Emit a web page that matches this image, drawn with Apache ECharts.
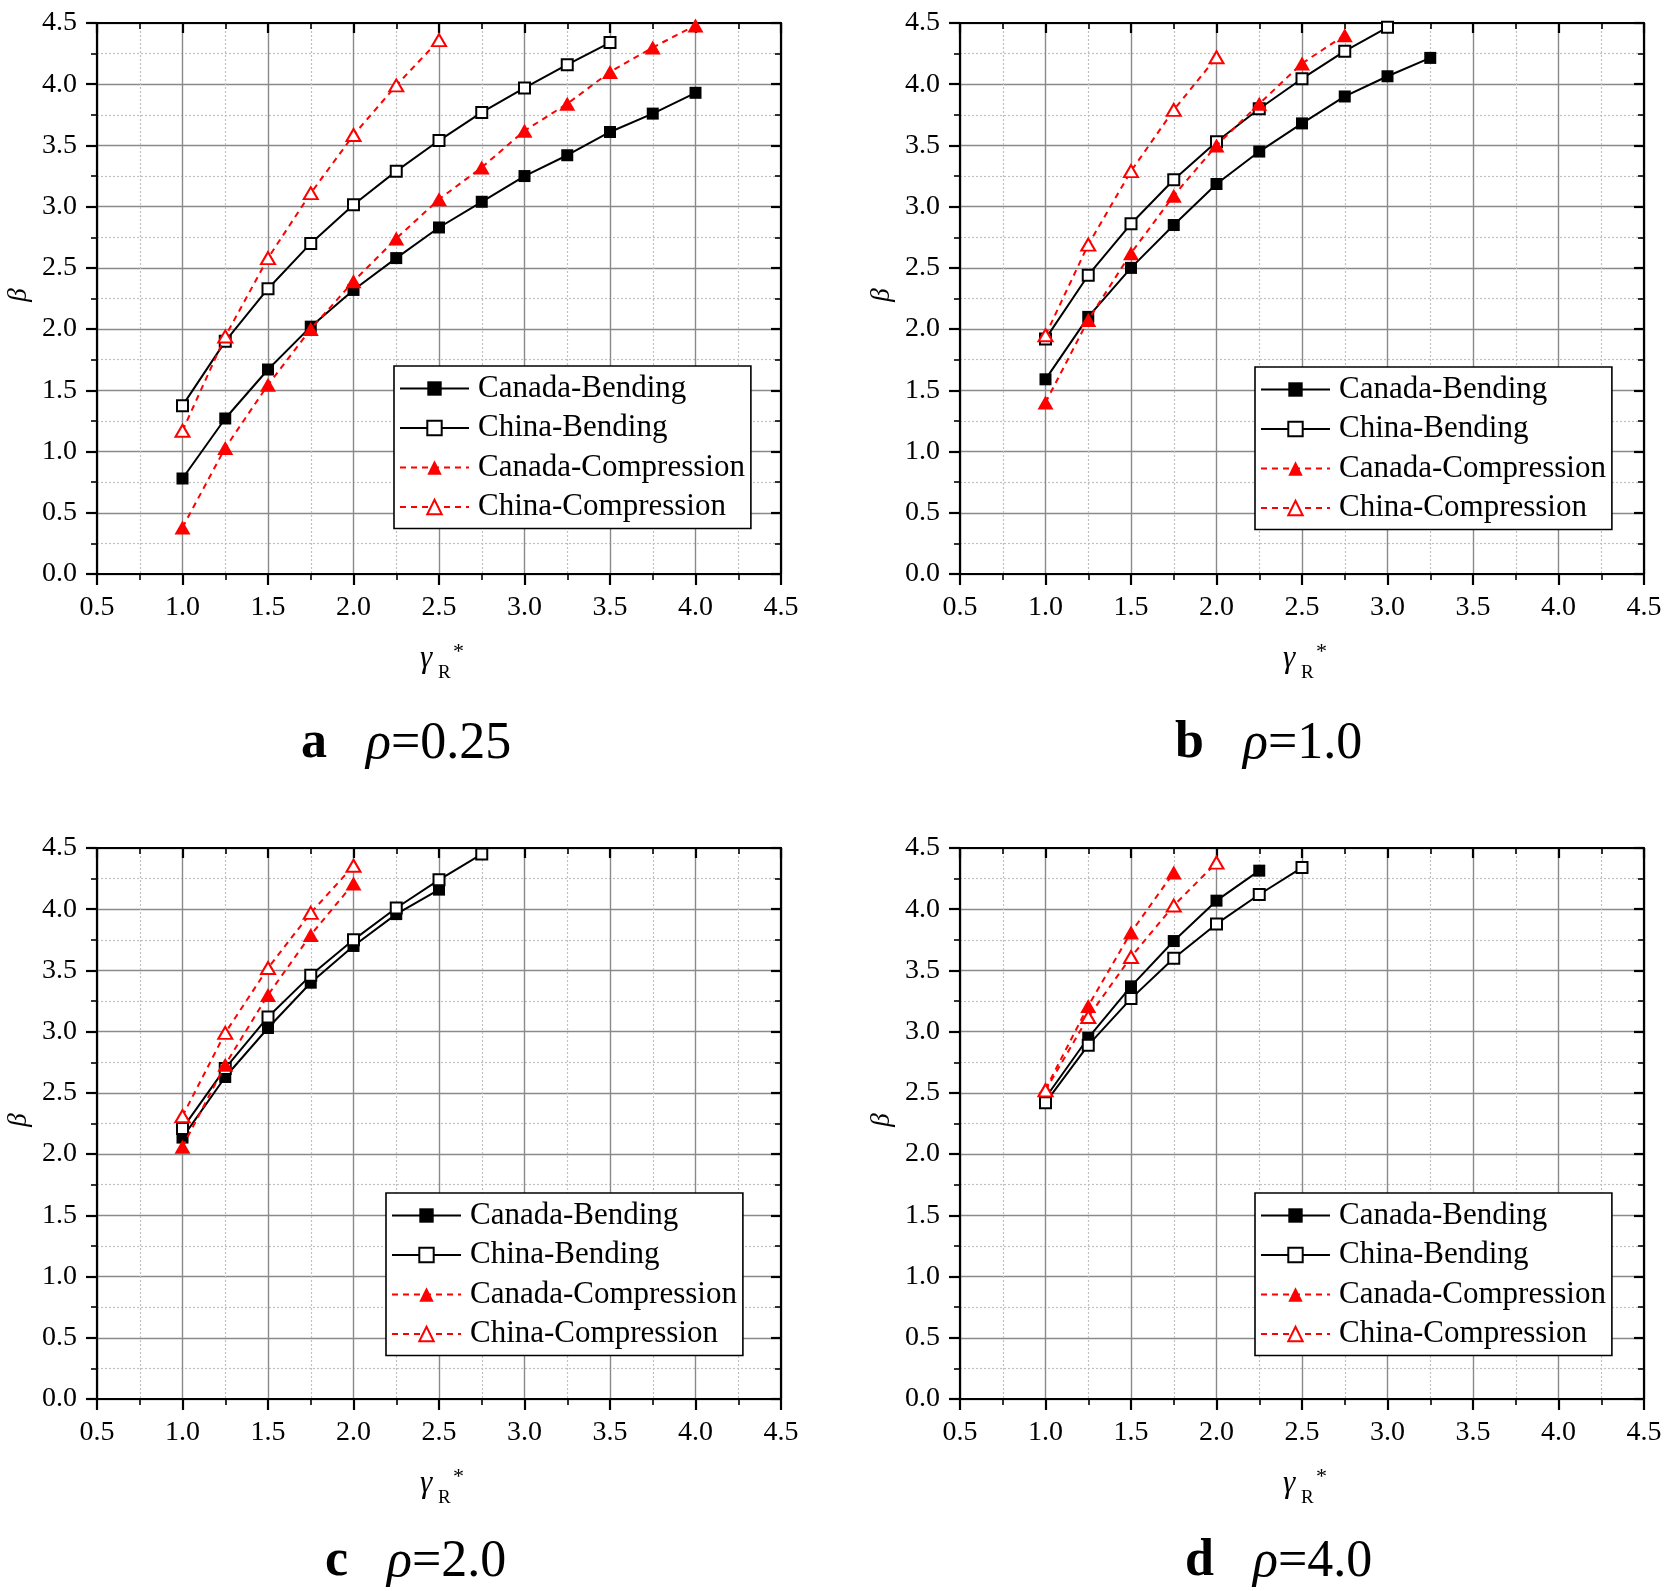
<!DOCTYPE html>
<html>
<head>
<meta charset="utf-8">
<script src="https://cdn.jsdelivr.net/npm/echarts@6/dist/echarts.min.js"></script>
<style>
html,body{margin:0;padding:0;background:#fff;}
#chart{width:1665px;height:1591px;}
</style>
</head>
<body>
<div id="chart"></div>
<script>
// ---------------- data ----------------
const X_VALUES = [1.0, 1.25, 1.5, 1.75, 2.0, 2.25, 2.5, 2.75, 3.0, 3.25, 3.5, 3.75, 4.0];
const SERIES_NAMES = ['Canada-Bending', 'China-Bending', 'Canada-Compression', 'China-Compression'];
const PANEL_LETTERS = ['a', 'b', 'c', 'd'];
const PANEL_RHO = ['0.25', '1.0', '2.0', '4.0'];
const X_AXIS_TITLE = ['γ', 'R', '*'];
const Y_AXIS_TITLE = 'β';

// panel a: rho = 0.25
const aCanadaBending     = [0.78, 1.27, 1.67, 2.02, 2.32, 2.58, 2.83, 3.04, 3.25, 3.42, 3.61, 3.76, 3.93];
const aChinaBending      = [1.375, 1.90, 2.33, 2.70, 3.015, 3.29, 3.54, 3.77, 3.97, 4.16, 4.34];
const aCanadaCompression = [0.38, 1.03, 1.545, 2.00, 2.39, 2.74, 3.06, 3.32, 3.62, 3.84, 4.10, 4.30, 4.48];
const aChinaCompression  = [1.17, 1.94, 2.58, 3.11, 3.585, 3.99, 4.36];
// panel b: rho = 1.0
const bCanadaBending     = [1.59, 2.10, 2.50, 2.85, 3.185, 3.45, 3.68, 3.90, 4.065, 4.215];
const bChinaBending      = [1.92, 2.44, 2.86, 3.22, 3.53, 3.80, 4.045, 4.27, 4.465];
const bCanadaCompression = [1.40, 2.075, 2.62, 3.09, 3.50, 3.84, 4.17, 4.40];
const bChinaCompression  = [1.95, 2.69, 3.29, 3.79, 4.22];
// panel c: rho = 2.0
const cCanadaBending     = [2.135, 2.63, 3.03, 3.40, 3.70, 3.96, 4.16];
const cChinaBending      = [2.21, 2.70, 3.12, 3.46, 3.75, 4.01, 4.24, 4.45];
const cCanadaCompression = [2.06, 2.73, 3.30, 3.79, 4.21];
const cChinaCompression  = [2.31, 2.99, 3.52, 3.97, 4.355];
// panel d: rho = 4.0
const dCanadaBending     = [2.46, 2.95, 3.37, 3.74, 4.07, 4.315];
const dChinaBending      = [2.42, 2.89, 3.27, 3.60, 3.88, 4.12, 4.34];
const dCanadaCompression = [2.53, 3.21, 3.81, 4.30];
const dChinaCompression  = [2.52, 3.12, 3.61, 4.03, 4.38];

const PANEL_DATA = [
  [aCanadaBending, aChinaBending, aCanadaCompression, aChinaCompression],
  [bCanadaBending, bChinaBending, bCanadaCompression, bChinaCompression],
  [cCanadaBending, cChinaBending, cCanadaCompression, cChinaCompression],
  [dCanadaBending, dChinaBending, dCanadaCompression, dChinaCompression]
];

// ---------------- layout / style ----------------
const FONT = 'Liberation Serif';
const PANELS = [
  {left: 97,  top: 23,  legendLeft: 394,  legendTop: 366,  capX: 301,  capY: 744},
  {left: 960, top: 23,  legendLeft: 1255, legendTop: 367,  capX: 1175, capY: 744},
  {left: 97,  top: 848, legendLeft: 386,  legendTop: 1193, capX: 325,  capY: 1562},
  {left: 960, top: 848, legendLeft: 1255, legendTop: 1193, capX: 1185, capY: 1562}
];
const GRID_W = 684, GRID_H = 551;

const STYLES = [
  {line: '#000000', type: 'solid', w: 2, symbol: 'rect', size: 12, fill: '#000000', border: '#000000', bw: 0},
  {line: '#000000', type: 'solid', w: 2, symbol: 'rect', size: 11, fill: '#ffffff', border: '#000000', bw: 2},
  {line: '#ff0000', type: [6, 5], w: 2, symbol: 'triangle', size: [16, 14], fill: '#ff0000', border: '#ff0000', bw: 0},
  {line: '#ff0000', type: [6, 5], w: 2, symbol: 'triangle', size: [14, 12], fill: '#ffffff', border: '#ff0000', bw: 2}
];

const fmt = v => v.toFixed(1);
const grid = [], xAxis = [], yAxis = [], series = [], legend = [], graphic = [];

PANELS.forEach((p, gi) => {
  grid.push({left: p.left, top: p.top, width: GRID_W, height: GRID_H, containLabel: false});
  const axisLine = {show: true, onZero: false, lineStyle: {color: '#000', width: 2.2}};
  const common = {gridIndex: gi, type: 'value', min: 0.5, max: 4.5, interval: 0.5};
  const commonY = {gridIndex: gi, type: 'value', min: 0, max: 4.5, interval: 0.5};
  const splitLine = {show: true, lineStyle: {color: '#8a8a8a', width: 1.4}};
  const minorSplitLine = {show: true, lineStyle: {color: '#c0c0c0', width: 1.2, type: [2, 2]}};
  const outerTick = {show: true, inside: false, length: 11, lineStyle: {color: '#000', width: 2.2}};
  const innerTick = {show: true, inside: true, length: 10, lineStyle: {color: '#000', width: 2.2}};
  const minorTick = {show: true, splitNumber: 2, length: 6, lineStyle: {color: '#000', width: 1.6}};
  const label = {show: true, fontFamily: FONT, fontSize: 28, color: '#000', formatter: fmt};

  xAxis.push(Object.assign({}, common, {
    position: 'bottom', axisLine, axisTick: outerTick, minorTick,
    axisLabel: Object.assign({}, label, {margin: 20}),
    splitLine, minorSplitLine
  }));
  xAxis.push(Object.assign({}, common, {
    position: 'top', axisLine, axisTick: innerTick, minorTick,
    axisLabel: {show: false}, splitLine: {show: false}, minorSplitLine: {show: false}
  }));
  yAxis.push(Object.assign({}, commonY, {
    position: 'left', axisLine, axisTick: outerTick, minorTick,
    axisLabel: Object.assign({}, label, {margin: 20}),
    splitLine, minorSplitLine
  }));
  yAxis.push(Object.assign({}, commonY, {
    position: 'right', axisLine, axisTick: innerTick, minorTick,
    axisLabel: {show: false}, splitLine: {show: false}, minorSplitLine: {show: false}
  }));

  PANEL_DATA[gi].forEach((vals, si) => {
    const s = STYLES[si];
    series.push({
      name: SERIES_NAMES[si],
      type: 'line',
      xAxisIndex: gi * 2,
      yAxisIndex: gi * 2,
      data: vals.map((v, i) => [X_VALUES[i], v]),
      symbol: s.symbol,
      symbolSize: s.size,
      showAllSymbol: true,
      clip: false,
      lineStyle: {color: s.line, width: s.w, type: s.type},
      itemStyle: {color: s.fill, borderColor: s.border, borderWidth: s.bw},
      emphasis: {disabled: true},
      animation: false,
      z: 3 + si
    });
  });

  legend.push({
    orient: 'vertical',
    left: p.legendLeft,
    top: p.legendTop,
    data: SERIES_NAMES,
    itemWidth: 69,
    itemHeight: 18,
    itemGap: 8.5,
    padding: [7, 6, 6, 5],
    borderColor: '#000',
    borderWidth: 1.6,
    borderRadius: 0,
    backgroundColor: '#fff',
    selectedMode: false,
    textStyle: {fontFamily: FONT, fontSize: 31, color: '#000', lineHeight: 30, padding: [0, 0, 0, 4]},
    z: 10
  });

  const dx = p.left - 97, dy = p.top - 23;
  graphic.push({type: 'text', x: 420 + dx, y: 659 + dy,
    style: {text: X_AXIS_TITLE[0], font: 'italic 31px "' + FONT + '"', fill: '#000', align: 'left', verticalAlign: 'middle'}});
  graphic.push({type: 'text', x: 438 + dx, y: 673 + dy,
    style: {text: X_AXIS_TITLE[1], font: '19px "' + FONT + '"', fill: '#000', align: 'left', verticalAlign: 'middle'}});
  graphic.push({type: 'text', x: 453 + dx, y: 652 + dy,
    style: {text: X_AXIS_TITLE[2], font: '22px "' + FONT + '"', fill: '#000', align: 'left', verticalAlign: 'middle'}});
  graphic.push({type: 'text', x: 19 + dx, y: 295 + dy, rotation: Math.PI / 2,
    style: {text: Y_AXIS_TITLE, font: 'italic 27px "' + FONT + '"', fill: '#000', align: 'center', verticalAlign: 'middle'}});
  graphic.push({type: 'text', x: p.capX, y: p.capY,
    style: {
      text: '{b|' + PANEL_LETTERS[gi] + '}{n|   }{i|ρ}{n|=' + PANEL_RHO[gi] + '}',
      align: 'left', verticalAlign: 'middle',
      rich: {
        b: {fontFamily: FONT, fontSize: 52, fontWeight: 'bold', fill: '#000', color: '#000'},
        i: {fontFamily: FONT, fontSize: 52, fontStyle: 'italic', fill: '#000', color: '#000'},
        n: {fontFamily: FONT, fontSize: 52, fill: '#000', color: '#000'}
      }
    }});
});

const chart = echarts.init(document.getElementById('chart'), null, {renderer: 'canvas'});
chart.setOption({
  backgroundColor: '#ffffff',
  animation: false,
  grid, xAxis, yAxis, series, legend, graphic
});
</script>
</body>
</html>
